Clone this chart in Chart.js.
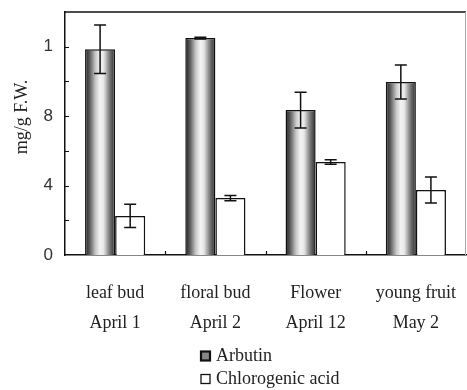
<!DOCTYPE html>
<html>
<head>
<meta charset="utf-8">
<script src="https://cdn.jsdelivr.net/npm/chart.js@4/dist/chart.umd.min.js"></script>
<style>
  html, body { margin: 0; padding: 0; background: #fff; }
  #box { width: 467px; height: 390px; position: relative; }
</style>
</head>
<body>
<div id="box"><canvas id="chart"></canvas></div>
<script>
// data
const categories = [['leaf bud', 'April 1'], ['floral bud', 'April 2'], ['Flower', 'April 12'], ['young fruit', 'May 2']];
const seriesNames = ['Arbutin', 'Chlorogenic acid'];
const arbutin = [11.85, 12.5, 8.35, 9.97];
const arbutinErr = [1.4, 0.05, 1.03, 0.98];
const chlorogenic = [2.25, 3.28, 5.36, 3.74];
const chlorogenicErr = [0.67, 0.15, 0.13, 0.75];
const yTickValues = [0, 4, 8, 12];
const yTickLabels = ['0', '4', '8', '1'];
const yTitle = 'mg/g F.W.';

const serif = '"Liberation Serif", "DejaVu Serif", serif';
const sans = '"Liberation Sans", Arial, sans-serif';
const CAT_PCT = 0.6;

// cylinder-like shading for the Arbutin bars
function cylinderFill(ctx) {
    const chart = ctx.chart;
    const x = chart.scales.x;
    if (!x || !chart.chartArea) return '#999';
    const catW = (x.right - x.left) / categories.length;
    const barW = catW * CAT_PCT / 2;
    const c = x.getPixelForValue(ctx.dataIndex);
    const g = chart.ctx.createLinearGradient(c - barW, 0, c, 0);
    g.addColorStop(0, '#1e1e1e');
    g.addColorStop(0.15, '#5a5a5a');
    g.addColorStop(0.35, '#c8c8c8');
    g.addColorStop(0.5, '#f4f4f4');
    g.addColorStop(0.62, '#e6e6e6');
    g.addColorStop(0.82, '#777');
    g.addColorStop(1, '#2a2a2a');
    return g;
}

const errors = [arbutinErr, chlorogenicErr];

const decorPlugin = {
    id: 'decor',
    afterDatasetsDraw(chart) {
        const ctx = chart.ctx;
        const a = chart.chartArea;
        const y = chart.scales.y;
        const x = chart.scales.x;
        ctx.save();
        // error bars
        ctx.strokeStyle = '#111';
        ctx.lineWidth = 1.5;
        chart.data.datasets.forEach((ds, di) => {
            const meta = chart.getDatasetMeta(di);
            meta.data.forEach((bar, i) => {
                const v = ds.data[i];
                const e = errors[di][i];
                const yt = y.getPixelForValue(v + e);
                const yb = y.getPixelForValue(v - e);
                ctx.beginPath();
                ctx.moveTo(bar.x, yt); ctx.lineTo(bar.x, yb);
                ctx.moveTo(bar.x - 6, yt); ctx.lineTo(bar.x + 6, yt);
                ctx.moveTo(bar.x - 6, yb); ctx.lineTo(bar.x + 6, yb);
                ctx.stroke();
            });
        });
        // frame: top black, right grey
        ctx.beginPath();
        ctx.lineWidth = 1.5;
        ctx.strokeStyle = '#111';
        ctx.moveTo(a.left, a.top); ctx.lineTo(a.right, a.top);
        ctx.stroke();
        ctx.beginPath();
        ctx.lineWidth = 1;
        ctx.strokeStyle = '#aaa';
        ctx.moveTo(a.right - 0.5, a.top); ctx.lineTo(a.right - 0.5, a.bottom);
        ctx.stroke();
        // inward ticks on y axis every 2
        ctx.beginPath();
        ctx.strokeStyle = '#111';
        ctx.lineWidth = 1.2;
        for (let v = 2; v <= 12; v += 2) {
            const py = Math.round(y.getPixelForValue(v)) + 0.5;
            ctx.moveTo(a.left, py); ctx.lineTo(a.left + 4, py);
        }
        // inward ticks between categories
        const catW = (x.right - x.left) / categories.length;
        for (let i = 1; i < categories.length; i++) {
            const px = Math.round(x.left + catW * i) + 0.5;
            ctx.moveTo(px, a.bottom); ctx.lineTo(px, a.bottom - 4);
        }
        ctx.stroke();
        ctx.restore();
    },
    afterDraw(chart) {
        const ctx = chart.ctx;
        ctx.save();
        // y axis title
        ctx.fillStyle = '#222';
        ctx.font = '18px ' + serif;
        ctx.textAlign = 'center';
        ctx.textBaseline = 'middle';
        ctx.translate(22, 117);
        ctx.rotate(-Math.PI / 2);
        ctx.fillText(yTitle, 0, 0);
        ctx.restore();

        // legend, stacked vertically
        ctx.save();
        ctx.font = '18px ' + serif;
        ctx.textBaseline = 'middle';
        const rows = [356, 379];
        // Arbutin box
        ctx.fillStyle = '#888';
        ctx.fillRect(201, rows[0] - 4.5, 9, 9);
        ctx.strokeStyle = '#111';
        ctx.lineWidth = 2.2;
        ctx.strokeRect(201, rows[0] - 4.5, 9, 9);
        // Chlorogenic box
        ctx.fillStyle = '#fff';
        ctx.fillRect(201, rows[1] - 4.5, 9, 9);
        ctx.lineWidth = 1.3;
        ctx.strokeRect(201, rows[1] - 4.5, 9, 9);
        ctx.fillStyle = '#222';
        ctx.fillText(seriesNames[0], 216, rows[0]);
        ctx.fillText(seriesNames[1], 216, rows[1]);
        ctx.restore();
    }
};

new Chart(document.getElementById('chart'), {
    type: 'bar',
    data: {
        labels: categories,
        datasets: [
            {
                label: seriesNames[0],
                data: arbutin,
                backgroundColor: cylinderFill,
                borderColor: '#111',
                borderWidth: 1.5,
                categoryPercentage: CAT_PCT,
                barPercentage: 1.0
            },
            {
                label: seriesNames[1],
                data: chlorogenic,
                backgroundColor: '#fff',
                borderColor: '#111',
                borderWidth: 1.5,
                categoryPercentage: CAT_PCT,
                barPercentage: 1.0
            }
        ]
    },
    options: {
        responsive: true,
        maintainAspectRatio: false,
        animation: false,
        devicePixelRatio: 1,
        layout: { padding: { top: 12, right: 1, left: 0, bottom: 0 } },
        plugins: {
            legend: { display: false },
            tooltip: { enabled: false }
        },
        scales: {
            x: {
                grid: { display: false, drawTicks: false },
                border: { display: true, color: '#111', width: 1.5 },
                ticks: {
                    color: '#222',
                    font: { family: serif, size: 18, lineHeight: 1.667 },
                    padding: 23,
                    maxRotation: 0,
                    autoSkip: false
                },
                afterFit(scale) {
                    scale.height = 135;
                    scale.paddingLeft = 0;
                    scale.paddingRight = 0;
                }
            },
            y: {
                min: 0,
                max: 14,
                grid: { display: false, drawTicks: false },
                border: { display: true, color: '#111', width: 1.5 },
                ticks: {
                    stepSize: 2,
                    color: '#333',
                    padding: 12,
                    font: { family: sans, size: 17 },
                    callback(v) {
                        const k = yTickValues.indexOf(v);
                        return k >= 0 ? yTickLabels[k] : '';
                    }
                },
                afterFit(scale) {
                    scale.width = 65;
                    scale.paddingTop = 0;
                    scale.paddingBottom = 0;
                }
            }
        }
    },
    plugins: [decorPlugin]
});
</script>
</body>
</html>
